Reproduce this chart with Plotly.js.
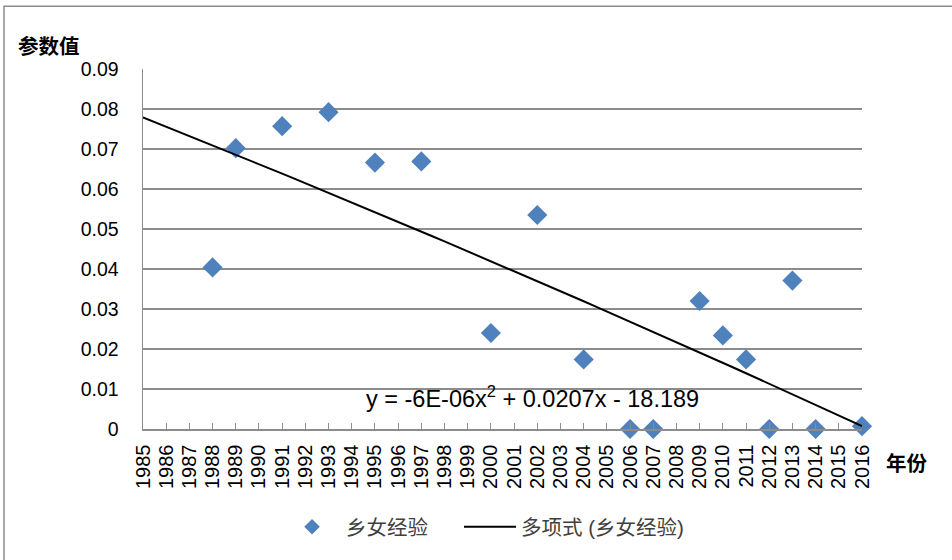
<!DOCTYPE html>
<html>
<head>
<meta charset="utf-8">
<script src="https://cdn.plot.ly/plotly-3.0.1.min.js"></script>
<style>
  html, body { margin: 0; padding: 0; background: #ffffff; }
  #chart { width: 952px; height: 560px; }
</style>
</head>
<body>
<div id="chart"></div>
<script>
// ---- data ----
const years  = [1988, 1989, 1991, 1993, 1995, 1997, 2000, 2002, 2004, 2006, 2007, 2009, 2010, 2011, 2012, 2013, 2014, 2016];
const values = [0.0404, 0.0702, 0.0757, 0.0792, 0.0666, 0.0669, 0.0240, 0.0535, 0.0174, 0, 0, 0.0320, 0.0234, 0.0174, 0, 0.0371, 0, 0.0007];
const seriesName = '乡女经验';
const trendName = '多项式 (乡女经验)';
const equationText = 'y = -6E-06x<sup>2</sup> + 0.0207x - 18.189';
const yTitle = '参数值';
const xTitle = '年份';
const xStart = 1985, xEnd = 2016;

// ---- quadratic least-squares trend line (fitted to the data) ----
function quadFit(xs, ys) {
  const c = 2000;
  let S = [0,0,0,0,0], T = [0,0,0];
  for (let i = 0; i < xs.length; i++) {
    const x = xs[i] - c, y = ys[i];
    let p = 1;
    for (let k = 0; k < 5; k++) { S[k] += p; p *= x; }
    T[0] += y; T[1] += y * x; T[2] += y * x * x;
  }
  const A = [[S[0], S[1], S[2], T[0]], [S[1], S[2], S[3], T[1]], [S[2], S[3], S[4], T[2]]];
  for (let i = 0; i < 3; i++) {
    for (let j = i + 1; j < 3; j++) {
      const f = A[j][i] / A[i][i];
      for (let k = i; k < 4; k++) A[j][k] -= f * A[i][k];
    }
  }
  const b = [0,0,0];
  for (let i = 2; i >= 0; i--) {
    let s = A[i][3];
    for (let k = i + 1; k < 3; k++) s -= A[i][k] * b[k];
    b[i] = s / A[i][i];
  }
  return x => b[0] + b[1] * (x - c) + b[2] * (x - c) * (x - c);
}
const f = quadFit(years, values);
const trendX = [], trendY = [];
for (let x = xStart; x <= xEnd; x += 0.5) { trendX.push(x); trendY.push(f(x)); }

const latin = 'Liberation Sans, Arial, Noto Sans CJK SC, sans-serif';
const cjk = 'Noto Sans CJK SC, Liberation Sans, sans-serif';
const legendFont = { family: latin, size: 20.5, color: '#404040' };

const traces = [
  {
    x: years, y: values, name: seriesName, type: 'scatter', mode: 'markers',
    marker: { symbol: 'diamond', size: 15.5, color: '#4f81bd' },
    cliponaxis: false, legend: 'legend'
  },
  {
    x: trendX, y: trendY, name: trendName, type: 'scatter', mode: 'lines',
    line: { color: '#000000', width: 2 }, legend: 'legend2'
  }
];

const layout = {
  width: 952, height: 560,
  margin: { l: 143, r: 90, t: 69, b: 131 },
  paper_bgcolor: '#ffffff', plot_bgcolor: '#ffffff',
  font: { family: latin, size: 18, color: '#000000' },
  showlegend: true,
  legend: {
    orientation: 'h', x: 0.1878, xanchor: 'left', y: -0.272, yanchor: 'middle',
    font: legendFont, itemwidth: 58, itemsizing: 'constant', bgcolor: 'rgba(0,0,0,0)'
  },
  legend2: {
    orientation: 'h', x: 0.4395, xanchor: 'left', y: -0.272, yanchor: 'middle',
    font: legendFont, itemwidth: 52, bgcolor: 'rgba(0,0,0,0)'
  },
  xaxis: {
    range: [xStart, xEnd], dtick: 1, tick0: xStart, tickangle: -90,
    showgrid: false, zeroline: false,
    showline: true, linecolor: '#8c8c8c', linewidth: 1.5,
    ticks: 'inside', ticklen: 6, tickcolor: '#8c8c8c', tickwidth: 1,
    ticklabelstandoff: 6,
    tickfont: { family: latin, size: 20, color: '#000000' }
  },
  yaxis: {
    range: [0, 0.09], dtick: 0.01, tick0: 0,
    showgrid: true, gridcolor: '#8c8c8c', gridwidth: 1.5,
    zeroline: false, showline: true, linecolor: '#8c8c8c', linewidth: 1.5,
    ticks: '', ticklabelstandoff: 19,
    tickfont: { family: latin, size: 19.5, color: '#000000' }
  },
  annotations: [
    { text: yTitle, xref: 'paper', yref: 'paper', x: -0.176, y: 1.066, xanchor: 'left', yanchor: 'middle',
      showarrow: false, font: { family: cjk, size: 20.5, color: '#000000', weight: 'bold' } },
    { text: xTitle, xref: 'paper', yref: 'paper', x: 1.031, y: -0.092, xanchor: 'left', yanchor: 'middle',
      showarrow: false, font: { family: cjk, size: 20.5, color: '#000000', weight: 'bold' } },
    { text: equationText, xref: 'x', yref: 'y', x: 2001.8, y: 0.008, xanchor: 'center', yanchor: 'middle',
      showarrow: false, font: { family: latin, size: 23.5, color: '#000000' } }
  ],
  shapes: [
    { type: 'rect', xref: 'paper', yref: 'paper', x0: -0.1933, x1: 1.3, y0: -0.6, y1: 1.174,
      line: { color: '#8c8c8c', width: 1.5 }, fillcolor: 'rgba(0,0,0,0)', layer: 'below' }
  ]
};

Plotly.newPlot('chart', traces, layout, { displayModeBar: false, staticPlot: true });
</script>
</body>
</html>
